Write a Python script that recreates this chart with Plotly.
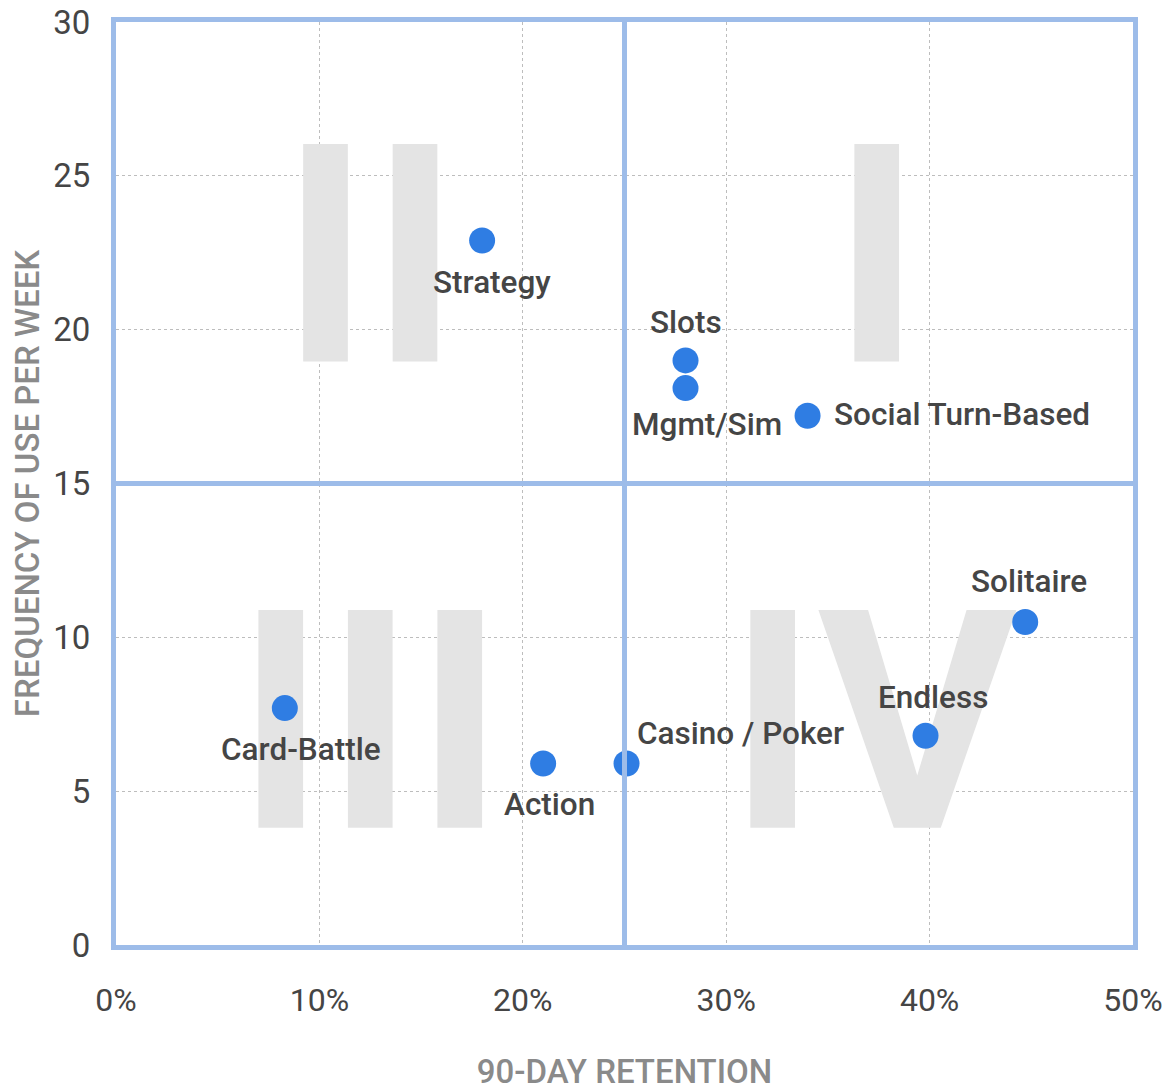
import plotly.graph_objects as go

# ---- data ----
genres = ["Strategy", "Slots", "Mgmt/Sim", "Social Turn-Based", "Solitaire",
          "Endless", "Casino / Poker", "Action", "Card-Battle"]
retention_pct = [18.0, 28.0, 28.0, 34.0, 44.7, 39.8, 25.1, 21.0, 8.3]
freq_per_week = [22.9, 19.0, 18.1, 17.2, 10.5, 6.8, 5.9, 5.9, 7.7]

quadrant_labels = ["I", "II", "III", "IV"]

x_ticks = [0, 10, 20, 30, 40, 50]
x_tick_text = ["0%", "10%", "20%", "30%", "40%", "50%"]
y_ticks = [0, 5, 10, 15, 20, 25, 30]
X_SPLIT = 25
Y_SPLIT = 15

# ---- styles / layout constants ----
FONT = "Roboto, Liberation Sans Narrow, sans-serif"
BLUE_LINE = "#9dbce9"
DOT = "#2f7de3"
TXT = "#454545"
NUMERAL_X = [37.4, 12.5, 12.5, 37.2]
NUMERAL_Y = [21.45, 21.45, 6.3, 6.3]

# label offsets (px): (xshift, yshift, xanchor)
label_pos = {
    "Strategy": (10, -42, "center"),
    "Slots": (0, 38, "center"),
    "Mgmt/Sim": (21, -36, "center"),
    "Social Turn-Based": (24, 1, "left"),
    "Solitaire": (4, 40, "center"),
    "Endless": (7, 38, "center"),
    "Casino / Poker": (8, 30, "left"),
    "Action": (6, -41, "center"),
    "Card-Battle": (16, -41, "center"),
}

fig = go.Figure()

# background roman numerals
fig.add_trace(go.Scatter(
    x=NUMERAL_X, y=NUMERAL_Y, mode="text", text=quadrant_labels,
    textfont=dict(family=FONT, size=306, color="#e4e4e4", weight="bold"),
    textposition="middle center", hoverinfo="skip", showlegend=False,
))

fig.add_trace(go.Scatter(
    x=retention_pct, y=freq_per_week, mode="markers",
    marker=dict(size=26, color=DOT, line=dict(width=0)),
    showlegend=False, hoverinfo="text", text=genres,
))

for g, xv, yv in zip(genres, retention_pct, freq_per_week):
    xs, ys, xa = label_pos[g]
    fig.add_annotation(x=xv, y=yv, xref="x", yref="y", text=g, showarrow=False,
                       xshift=xs, yshift=ys, xanchor=xa, yanchor="middle",
                       font=dict(family=FONT, size=31.5, color=TXT, weight=500))

fig.add_shape(type="line", xref="x", yref="paper", x0=X_SPLIT, x1=X_SPLIT, y0=0, y1=1,
              line=dict(color=BLUE_LINE, width=5), layer="above")
fig.add_shape(type="line", xref="paper", yref="y", x0=0, x1=1, y0=Y_SPLIT, y1=Y_SPLIT,
              line=dict(color=BLUE_LINE, width=5), layer="above")

fig.update_layout(
    width=1163, height=1083,
    margin=dict(l=108, r=38, t=14, b=146),
    paper_bgcolor="white", plot_bgcolor="white",
    font=dict(family=FONT, color=TXT),
)
fig.update_xaxes(
    range=[0, 50], tickvals=x_ticks, ticktext=x_tick_text, automargin=False,
    ticklabeloverflow="allow",
    showgrid=True, gridcolor="#bdbdbd", griddash="dot", gridwidth=1,
    showline=True, mirror=True, linecolor=BLUE_LINE, linewidth=5,
    zeroline=False, ticks="", ticklabelstandoff=23,
    tickfont=dict(family=FONT, size=32, color=TXT),
    title=dict(text="90-DAY RETENTION", standoff=43,
               font=dict(family=FONT, size=33, color="#8a8a8a", weight=500)),
)
fig.update_yaxes(
    range=[0, 30], tickvals=y_ticks, automargin=False,
    ticklabeloverflow="allow",
    showgrid=True, gridcolor="#bdbdbd", griddash="dot", gridwidth=1,
    showline=True, mirror=True, linecolor=BLUE_LINE, linewidth=5,
    zeroline=False, ticks="", ticklabelstandoff=14,
    tickfont=dict(family=FONT, size=33, color=TXT),
    title=dict(text="FREQUENCY OF USE PER WEEK", standoff=11,
               font=dict(family=FONT, size=33, color="#8a8a8a", weight=500)),
)

fig.write_html("out.html")
